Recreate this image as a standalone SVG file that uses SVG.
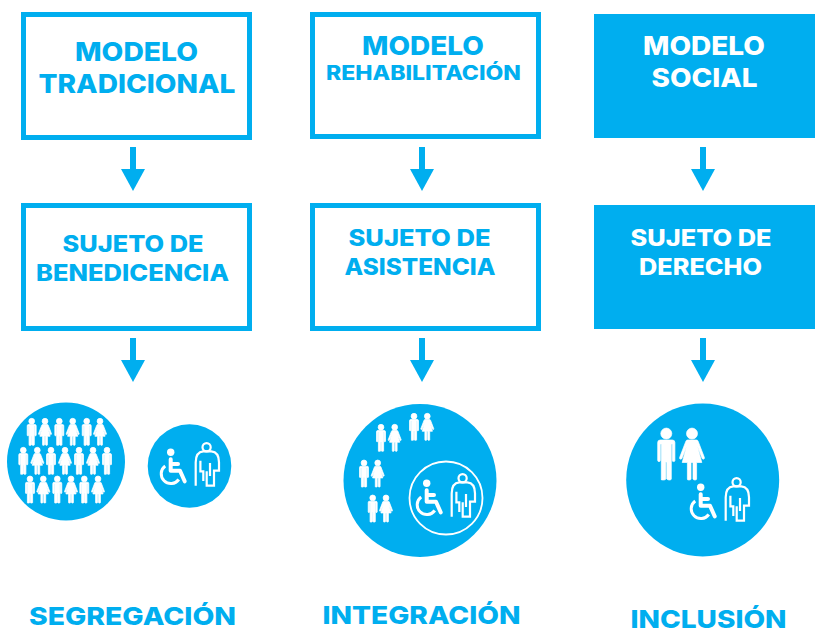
<svg xmlns="http://www.w3.org/2000/svg" width="815" height="631" viewBox="0 0 815 631">
<style>
.box{fill:#fff;stroke:#00aeef;stroke-width:5}
.solid{fill:#00aeef}
.t{font-family:Inter,"Liberation Sans",sans-serif;font-weight:800;fill:#00aeef}
.l{font-size:26px}.m{font-size:22.5px}.s{font-size:19.5px}.f{font-size:25px}
.rev{fill:#fff}
.conn{stroke:#00aeef;stroke-width:6;fill:none;marker-end:url(#ah)}
.disc{fill:#00aeef}
.ring{fill:none;stroke:#fff;stroke-width:1.8}
.sm{stroke:#fff;stroke-width:1.5}
.lg{stroke:#fff;stroke-width:.7}
</style>
<defs>
<marker id="ah" markerUnits="userSpaceOnUse" markerWidth="24" markerHeight="24" refX="0" refY="12" orient="auto"><path d="M0 0L22 12L0 24z" fill="#00aeef"/></marker>
<g id="man" fill="#fff">
<circle cx="0" cy="5.6" r="5.5"/>
<path d="M-8.6 14.5Q-8.6 12-6 12H6Q8.6 12 8.6 14.5V32.5Q8.6 33.6 7.3 33.6T6 32.5V16H5V51Q5 52 3.2 52T.5 51V34H-.5V51Q-.5 52-3.2 52T-5 51V16H-6V32.5Q-6 33.6-7.3 33.6T-8.6 32.5z"/>
</g>
<g id="woman" fill="#fff">
<circle cx="0" cy="5.6" r="5.5"/>
<path d="M-4.5 12H4.5Q5.6 12 6.1 13.2L12.4 29.6Q12.7 30.8 11.6 31.1T10 30.2L5.5 18.5 9.8 34.5H4.6V51Q4.6 52 3 52T1 51V34.5H-1V51Q-1 52-3 52T-4.6 51V34.5H-9.8L-5.5 18.5-10 30.2Q-10.4 31.4-11.6 31.1T-12.4 29.6L-6.1 13.2Q-5.6 12-4.5 12z"/>
</g>
<g id="pair">
<circle cx="12.7" cy="10.3" r="3.7" fill="#fff"/>
<path d="M12.7 17.2V28.7H22L26.7 39.3M12.7 22H20" fill="none" stroke="#fff" stroke-width="4" stroke-linecap="round" stroke-linejoin="round"/>
<path d="M7.2 24A9.7 9.7 0 1 0 20.8 37.5" fill="none" stroke="#fff" stroke-width="3"/>
<g fill="none" stroke="#fff" stroke-width="2.2">
<circle cx="48.6" cy="5.3" r="4.1"/>
<path d="M37.7 43.7V20.3Q37.7 10 45.3 9.3H53.3Q61 10 61 20.3V28.7H56V43.7H48.7V29.3"/>
<path d="M42.4 18.7V29.3H45.3V39M52 21V34"/>
</g>
</g>
</defs>

<g id="connectors">
<path class="conn" d="M133 147V169"/><path class="conn" d="M422 147V169"/><path class="conn" d="M703 147V169"/>
<path class="conn" d="M133 338V360"/><path class="conn" d="M422 338V360"/><path class="conn" d="M703 338V360"/>
</g>

<g id="modelo-tradicional"><rect class="box" x="23.5" y="14.5" width="226" height="123"/>
<text class="t l" x="75" y="61" textLength="123" lengthAdjust="spacingAndGlyphs">MODELO</text>
<text class="t l" x="38.5" y="93" textLength="197" lengthAdjust="spacingAndGlyphs">TRADICIONAL</text></g>
<g id="modelo-rehabilitacion"><rect class="box" x="312.5" y="14.5" width="226" height="122"/>
<text class="t l" x="362" y="55" textLength="122" lengthAdjust="spacingAndGlyphs">MODELO</text>
<text class="t s" x="326" y="80" textLength="195" lengthAdjust="spacingAndGlyphs">REHABILITACIÓN</text></g>
<g id="modelo-social"><rect class="solid" x="594" y="14" width="221" height="124"/>
<text class="t l rev" x="643" y="55" textLength="122" lengthAdjust="spacingAndGlyphs">MODELO</text>
<text class="t l rev" x="651.5" y="87" textLength="106" lengthAdjust="spacingAndGlyphs">SOCIAL</text></g>

<g id="sujeto-benedicencia"><rect class="box" x="23.5" y="205.5" width="226" height="123"/>
<text class="t m" x="62.5" y="252" textLength="141" lengthAdjust="spacingAndGlyphs">SUJETO DE</text>
<text class="t m" x="36" y="281" textLength="193" lengthAdjust="spacingAndGlyphs">BENEDICENCIA</text></g>
<g id="sujeto-asistencia"><rect class="box" x="312.5" y="205.5" width="226" height="123"/>
<text class="t m" x="348.5" y="246" textLength="142" lengthAdjust="spacingAndGlyphs">SUJETO DE</text>
<text class="t m" x="344.5" y="275" textLength="151" lengthAdjust="spacingAndGlyphs">ASISTENCIA</text></g>
<g id="sujeto-derecho"><rect class="solid" x="594" y="205" width="221" height="124"/>
<text class="t m rev" x="630.5" y="246" textLength="141" lengthAdjust="spacingAndGlyphs">SUJETO DE</text>
<text class="t m rev" x="639" y="275" textLength="123" lengthAdjust="spacingAndGlyphs">DERECHO</text></g>

<g id="segregacion-crowd"><circle class="disc" cx="66" cy="461.5" r="59"/>
<use class="sm" href="#man" transform="translate(31.7 418.3) scale(.52)"/>
<use class="sm" href="#woman" transform="translate(45 418.3) scale(.52)"/>
<use class="sm" href="#man" transform="translate(59.3 418.3) scale(.52)"/>
<use class="sm" href="#woman" transform="translate(72.7 418.3) scale(.52)"/>
<use class="sm" href="#man" transform="translate(86.7 418.3) scale(.52)"/>
<use class="sm" href="#woman" transform="translate(100 418.3) scale(.52)"/>
<use class="sm" href="#man" transform="translate(23.3 447.3) scale(.52)"/>
<use class="sm" href="#woman" transform="translate(37.3 447.3) scale(.52)"/>
<use class="sm" href="#man" transform="translate(51 447.3) scale(.52)"/>
<use class="sm" href="#woman" transform="translate(65 447.3) scale(.52)"/>
<use class="sm" href="#man" transform="translate(79 447.3) scale(.52)"/>
<use class="sm" href="#woman" transform="translate(93 447.3) scale(.52)"/>
<use class="sm" href="#man" transform="translate(107 447.3) scale(.52)"/>
<use class="sm" href="#man" transform="translate(30 476) scale(.52)"/>
<use class="sm" href="#woman" transform="translate(43.3 476) scale(.52)"/>
<use class="sm" href="#man" transform="translate(57.3 476) scale(.52)"/>
<use class="sm" href="#woman" transform="translate(71 476) scale(.52)"/>
<use class="sm" href="#man" transform="translate(84.3 476) scale(.52)"/>
<use class="sm" href="#woman" transform="translate(98 476) scale(.52)"/>
</g>
<g id="segregacion-apart"><circle class="disc" cx="189.5" cy="466" r="41.8"/>
<use href="#pair" transform="translate(158 442)"/></g>

<g id="integracion"><circle class="disc" cx="420" cy="480.5" r="76.5"/>
<use class="sm" href="#man" transform="translate(414 413.3) scale(.52)"/>
<use class="sm" href="#woman" transform="translate(427.3 413.3) scale(.52)"/>
<use class="sm" href="#man" transform="translate(381 424.3) scale(.52)"/>
<use class="sm" href="#woman" transform="translate(394.7 424.3) scale(.52)"/>
<use class="sm" href="#man" transform="translate(364 460) scale(.52)"/>
<use class="sm" href="#woman" transform="translate(377.7 460) scale(.52)"/>
<use class="sm" href="#man" transform="translate(372.7 495) scale(.52)"/>
<use class="sm" href="#woman" transform="translate(386 495) scale(.52)"/>
<circle class="ring" cx="446" cy="498" r="36.5"/>
<use href="#pair" transform="translate(414 473)"/></g>

<g id="inclusion"><circle class="disc" cx="702.7" cy="480" r="76.5"/>
<use class="lg" href="#man" transform="translate(666.3 428)"/>
<use class="lg" href="#woman" transform="translate(692 428)"/>
<use href="#pair" transform="translate(688 477)"/></g>

<g id="labels">
<text class="t f" x="29" y="625" textLength="207" lengthAdjust="spacingAndGlyphs">SEGREGACIÓN</text>
<text class="t f" x="322.5" y="624" textLength="198" lengthAdjust="spacingAndGlyphs">INTEGRACIÓN</text>
<text class="t f" x="630.5" y="628" textLength="156" lengthAdjust="spacingAndGlyphs">INCLUSIÓN</text>
</g>
</svg>
